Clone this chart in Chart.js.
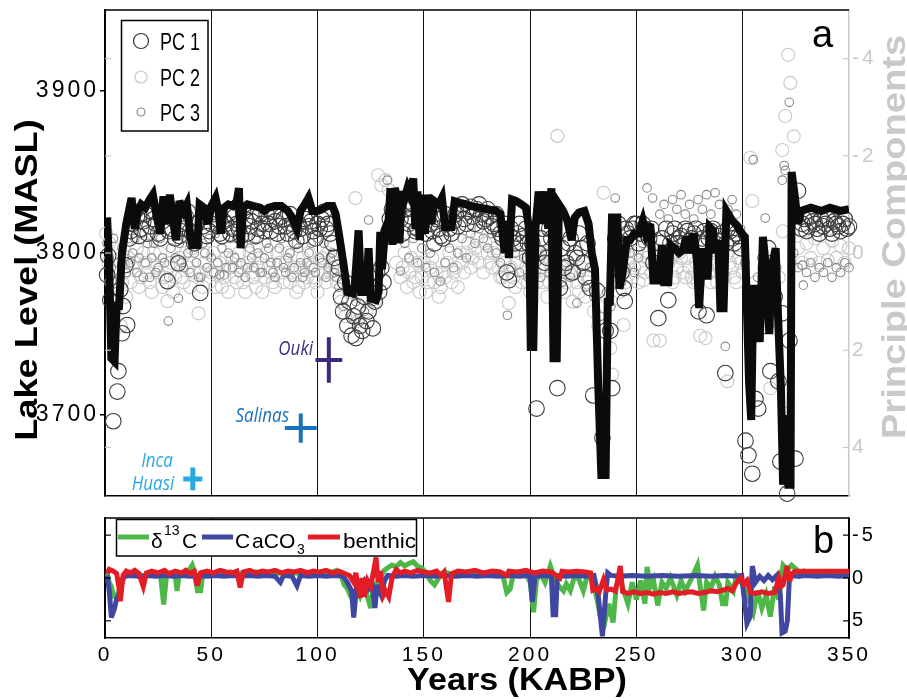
<!DOCTYPE html>
<html>
<head>
<meta charset="utf-8">
<title>Lake level reconstruction</title>
<script src="https://cdn.jsdelivr.net/npm/chart.js@4.4.1/dist/chart.umd.min.js"></script>
<style>
  body { margin: 0; background: #fff; }
  #wrap { position: relative; width: 907px; height: 700px; }
  #wrap canvas { position: absolute; left: 0; }
</style>
</head>
<body>
<div id="wrap">
  <canvas id="lakeChart" width="907" height="505" style="top:0"></canvas>
  <canvas id="proxyChart" width="907" height="195" style="top:505px"></canvas>
</div>
<script>
// ---- data: [age (ka BP), value] ----
const lakeLevel = [
  [1,3822],[2,3790],[3,3735],[4.5,3733],[5.5,3770],[6.5,3765],[8,3800],[10,3818],[12.5,3834],[14,3815],[15.5,3826],[17,3830],[19,3828],[21,3833],[22.5,3836],[24,3825],[26,3812],[27.5,3835],[29,3818],[30.5,3836],[32,3820],[33.5,3808],[35,3832],[37,3826],[38.5,3830],[40,3812],[41,3805],[43.5,3805],[44.5,3830],[46.5,3828],[48.5,3818],[50,3829],[52,3834],[53.5,3825],[54.5,3812],[56,3828],[58,3830],[60,3829],[62,3832],[63,3840],[63.8,3803],[65,3828],[67,3830],[70,3829],[73,3828],[75,3826],[77,3828],[80,3829],[83,3829],[86,3826],[88,3822],[90.3,3815],[92,3826],[94,3830],[95.7,3834],[97.5,3826],[100,3826],[102,3827],[104.5,3829],[107,3829],[108.5,3824],[110,3812],[112,3795],[114,3776],[116.5,3775],[117.5,3780],[119.3,3814],[120.5,3776],[123,3776],[124,3803],[125,3772],[127.5,3771],[128.7,3776],[129.5,3813],[130.3,3790],[131.8,3815],[133.4,3820],[134.3,3840],[135.2,3805],[136.3,3840],[137.5,3835],[138.5,3806],[139.7,3838],[141,3834],[142.3,3840],[143.5,3836],[145,3846],[146,3815],[147,3838],[148,3808],[149,3836],[150.5,3812],[152,3836],[153.5,3818],[155,3832],[157,3830],[158.5,3834],[160,3816],[163,3816],[164.5,3832],[167,3831],[170,3830],
  [172,3829],[176,3828],[180,3827],[184,3826],[186,3824],[188,3800],[189,3820],[190,3797],[191.5,3833],[193.5,3832],[196,3830],[198,3828],[199.5,3815],[200.3,3742],[201.5,3742],[202.5,3815],[204,3838],[205.5,3818],[207,3838],[208.5,3815],[210,3840],[211,3735],[212.5,3735],[213.5,3830],[215.5,3826],[217.5,3820],[219.5,3808],[221,3822],[223,3825],[225.5,3826],[227.5,3818],[229,3800],[230.5,3790],[232,3720],[233.5,3663],[235.5,3663],[236.5,3770],[237.5,3770],[238.5,3822],[241,3822],[242,3778],[243.5,3788],[245.5,3808],[247,3808],[249,3812],[251,3812],[253,3820],[254.5,3812],[256.5,3818],[258,3783],[260.5,3783],
  [262,3805],[263,3782],[265,3782],[266,3805],[268,3803],[270,3800],[272,3802],[273.5,3810],[275,3800],[277,3812],[278.5,3795],[279.5,3766],[281,3803],[282,3786],[283.5,3786],[284.5,3816],[286,3814],[287,3800],[288.5,3808],[289.5,3766],[291,3766],[292.3,3826],[295,3820],[297.3,3817],[299.5,3812],[301,3810],[303,3720],[304,3697],[305,3778],[307,3778],[308,3745],[309.5,3810],[311,3790],[312.5,3750],[313.5,3790],[315.5,3803],[316.5,3765],[318,3715],[319,3657],[320.5,3700],[321.5,3657],[322.5,3657],[323,3850],[324.5,3835],[326,3818],[327.5,3826],[332,3828],[337,3826],[341,3828],[346,3826],[350,3827]
];

const pc1 = [
  [1,0.45],[1.5,0.06],[2.5,0.97],[3.9,3.46],[5.8,2.85],[6.3,2.43],[7.2,0.75],[8,1.65],[8.5,1.09],[9.6,0.25],[10.4,1.48],[11.5,-0.3],
  [13,-0.6],[15,-0.75],[17,-0.5],[19,-0.8],[21,-0.55],[23,-0.7],[25,-0.4],[27,-0.65],[29.4,0.58],[31,-0.5],[33,-0.3],[34.5,0.21],[36,-0.6],[38,-0.75],[40,-0.45],[42,-0.2],[44.8,0.82],[46,-0.55],[48,-0.35],[50,-0.6],[52,-0.7],[54,-0.4],[56,-0.65],[58,-0.8],[60,-0.5],[62,-0.6],[64,-0.35],[66,-0.7],[68,-0.55],[70,-0.75],[72,-0.5],[74,-0.6],[76,-0.8],[78,-0.45],[80,-0.65],[82,-0.55],[84,-0.7],[86,-0.4],[88,-0.6],[90,-0.25],[92,-0.5],[94,-0.7],[96,-0.55],[98,-0.45],[100,-0.6],[102,-0.7],[104,-0.5],[106,-0.4],[108,0.1],
  [12,-0.45],[14,-0.85],[16,-0.35],[18,-0.65],[20,-0.4],[22,-0.85],[24,-0.6],[26,-0.3],[28,-0.75],[30,-0.45],[32,-0.7],[35,-0.35],[37,-0.5],[39,-0.85],[41,-0.4],[43,-0.6],[47,-0.75],[49,-0.45],[51,-0.8],[53,-0.55],[55,-0.35],[57,-0.6],[59,-0.4],[61,-0.75],[63,-0.5],[65,-0.85],[67,-0.4],[69,-0.65],[71,-0.35],[73,-0.8],[75,-0.45],[77,-0.6],[79,-0.85],[81,-0.4],[83,-0.75],[85,-0.55],[87,-0.8],[89,-0.45],[91,-0.6],[93,-0.35],[95,-0.8],[97,-0.65],[99,-0.3],[101,-0.5],[103,-0.85],[105,-0.6],[107,-0.2],
  [110,0.3],[111,0.9],[112,1.2],[113,0.6],[114,1.5],[115,1.0],[116,1.7],[117,1.3],[118,1.75],[119,1.1],[120,1.5],[121,1.6],[122,0.9],[123,1.4],[124,1.2],[125,0.7],[126,1.55],[127,1.0],[128,0.4],[129,0.8],[130,0.3],[131,0.6],
  [133,-0.4],[135,-0.9],[137,-1.1],[139,-0.7],[141,-0.9],[143,-0.6],[145,-1.0],[147,-0.5],[149,-0.7],[151,-0.4],[153,-0.6],[155,-0.2],[157,-0.5],[159,-0.3],[161,-0.6],[163,-0.4],[165,-0.8],[167,-0.9],[169,-0.7],[171,-0.85],[173,-0.75],[175,-0.9],[177,-0.8],[179,-0.7],[181,-0.75],[183,-0.6],[185,-0.5],[187,-0.3],[189,0.4],[190,0.56],[192,-0.3],[194,-0.4],[196,-0.2],[198,-0.5],
  [134,-0.7],[136,-0.5],[138,-0.85],[140,-0.4],[142,-1.0],[144,-0.75],[146,-0.45],[148,-0.9],[150,-0.55],[152,-0.8],[154,-0.45],[156,-0.7],[158,-0.35],[160,-0.8],[162,-0.5],[164,-0.65],[166,-0.55],[168,-1.0],[170,-0.6],[172,-0.95],[174,-0.6],[176,-1.0],[178,-0.65],[180,-0.9],[182,-0.55],[184,-0.8],[186,-0.4],[188,-0.6],[191,-0.5],[193,-0.2],[195,-0.6],[197,-0.35],[199,-0.2],
  [200,0.1],[203,3.2],[205,-0.3],[207,0.2],[209,-0.5],[212.8,2.78],[214,0.72],[216,0.3],[218,-0.2],[220,0.4],[222,0.1],[224,-0.1],[226,0.5],[228.3,0.72],[229.7,2.93],[231.6,0.78],[234,3.8],[235.5,1.6],[237.7,1.6],[238.6,2.78],[240,-0.3],[241.5,-0.6],[243,0.4],[244,0.72],[244.5,0.99],[246,-0.4],[248,-0.5],[250,-0.6],[252,-0.4],[254,-0.5],[256,-0.3],[258,0.2],
  [201,-0.2],[204,0.0],[206,-0.5],[208,0.1],[210,-0.3],[215,-0.1],[217,0.2],[219,-0.3],[221,0.0],[223,-0.4],[225,0.2],[227,-0.2],[245,-0.5],[247,-0.3],[249,-0.6],[251,-0.2],[253,-0.6],[255,-0.4],[257,-0.5],
  [260.3,1.34],[262,-0.3],[263.5,0.1],[265,0.97],[267,-0.4],[269,-0.2],[271,-0.35],[273,-0.5],[275,-0.25],[277,-0.4],[279.2,1.2],[281,-0.3],[283,1.28],[285,-0.45],[287,-0.2],[289,-0.35],[291.8,2.47],[293,-0.5],[295,-0.3],[297,-0.4],[299,-0.1],
  [261,-0.2],[264,-0.5],[266,-0.2],[268,-0.5],[270,-0.3],[272,-0.15],[274,-0.45],[276,-0.3],[278,-0.5],[280,-0.2],[282,-0.45],[284,-0.3],[286,-0.5],[288,-0.25],[290,-0.4],[292,-0.2],[294,-0.45],[296,-0.2],[298,-0.35],
  [301.3,3.86],[302.7,4.16],[304.5,4.54],[306,3.0],[307.3,3.2],[310.6,1.5],[312,-0.1],[313,2.43],[315,0.9],[316.8,2.64],[317.7,4.29],[318.6,1.24],[320.9,4.95],[322,1.8],[324.8,4.23],[326,-1.28],
  [327.5,-0.5],[329,-0.7],[331,-0.55],[333,-0.65],[335,-0.5],[337,-0.7],[339,-0.6],[341,-0.5],[343,-0.65],[345,-0.55],[347,-0.6],[349,-0.5],
  [328,-0.6],[330,-0.45],[332,-0.75],[334,-0.6],[336,-0.4],[338,-0.55],[340,-0.7],[342,-0.4],[344,-0.6],[346,-0.45],[348,-0.7],[350,-0.55]
];

const pc2 = [
  [0.5,-0.4],[2,-0.2],[3,0.6],[4.5,1.2],[6,0.9],[7.5,1.5],[9,0.4],[11,0.1],[13,0.3],[15,-0.1],[17,0.5],[19,0.2],[21,0.6],[23,0.0],[25,0.4],[27,0.7],[29.4,0.99],[31,0.2],[33,0.5],[35,0.1],[37,0.6],[39,0.3],[41,-0.1],[44,1.24],[45,0.4],[47,0.2],[49,0.6],[51,0.0],[53,0.4],[55,0.7],[57,0.1],[59,0.3],[61,0.5],[63,0.0],[65,0.6],[67,0.2],[69,0.4],[71,0.7],[73,0.1],[75,0.5],[77,0.3],[79,0.6],[81,0.0],[83,0.4],[85,0.2],[87,0.6],[89,0.3],[91,0.7],[93,0.1],[95,0.5],[97,0.3],[99,0.6],[101,0.2],[103,0.4],[105,0.0],[107,0.3],[109,0.6],
  [1.5,0.2],[4,-0.1],[8,0.6],[10,0.9],[12,0.6],[14,0.2],[16,0.7],[18,0.0],[20,0.4],[22,0.8],[24,0.3],[26,0.0],[28,0.5],[30,0.3],[32,0.8],[34,0.2],[36,0.5],[38,0.0],[40,0.7],[42,0.4],[46,0.7],[48,0.0],[50,0.4],[52,0.7],[54,0.2],[56,0.5],[58,0.8],[60,0.1],[62,0.6],[64,0.3],[66,0.8],[68,0.0],[70,0.5],[72,0.3],[74,0.8],[76,0.0],[78,0.4],[80,0.7],[82,0.2],[84,0.6],[86,0.0],[88,0.4],[90,0.8],[92,0.3],[94,0.6],[96,0.0],[98,0.5],[100,0.8],[102,0.1],[104,0.6],[106,0.4],[108,0.2],
  [111,1.0],[113,1.3],[115,0.8],[117.8,-1.13],[119,1.4],[121,0.9],[123,1.2],[125,0.5],[127,1.0],[128.5,-1.6],[130,-1.4],[132,-1.5],[133.5,-1.3],[135,-0.6],[137,0.2],[139,0.5],[141,0.0],[143,0.4],[145,0.6],[147,0.2],[149,0.5],[151,0.8],[153,0.3],[155,0.6],[157,0.9],[159,0.4],[161,0.2],[163,0.6],[165,0.3],[167,0.0],[169,0.4],[171,-0.2],[173,0.1],[175,-0.3],[177,0.0],[179,-0.2],[181,0.2],[183,0.0],[185,0.3],[187,0.5],[190,1.03],[192,0.5],[194,0.2],[196,0.6],[198,0.3],
  [140,0.3],[142,0.7],[144,0.1],[146,0.5],[148,0.8],[150,0.2],[152,0.6],[154,0.1],[156,0.4],[158,0.7],[160,0.5],[162,0.0],[164,0.4],[166,0.7],[168,0.2],[170,0.0],[172,0.3],[174,-0.1],[176,0.2],[178,0.4],[180,0.0],[182,0.3],[184,-0.1],[186,0.5],[188,0.2],[191,0.3],[193,0.7],[195,0.0],[197,0.4],[199,0.6],
  [200,0.8],[202,0.4],[204,0.1],[206,0.6],[208,0.9],[210,0.3],[212.8,-2.41],[214,0.5],[216,0.8],[218,0.4],[220,1.0],[222,0.6],[224,0.3],[226,0.9],[228,0.5],[230,1.2],[232,1.5],[234.5,-1.24],[236,0.9],[237.7,1.96],[238.6,2.5],[240,0.3],[242,0.8],[244,1.48],[246,0.2],[248,0.5],[250,0.0],[252,0.3],[253.3,0.56],[255,0.1],[257,0.4],[258,1.8],
  [201,0.2],[203,0.6],[205,0.3],[207,0.0],[209,0.6],[211,0.2],[215,0.3],[217,0.6],[219,0.1],[221,0.4],[223,0.8],[225,0.2],[227,0.6],[245,0.6],[247,0.1],[249,0.3],[251,0.6],[254,0.4],[256,0.0],
  [261,1.8],[263,0.5],[265,0.2],[267,0.6],[269,0.3],[271,0.1],[273,0.5],[275,0.3],[277,0.6],[280,1.7],[282.5,1.75],[284,0.4],[286,0.2],[288,0.6],[290,0.3],[292.8,2.64],[294,0.2],[296,0.5],[298,0.1],[300,0.4],
  [260,0.3],[262,0.0],[264,0.4],[266,0.1],[268,0.5],[270,0.0],[272,0.4],[274,0.1],[276,0.5],[278,0.2],[279,0.6],[281,0.0],[283,0.3],[285,0.6],[287,0.0],[289,0.3],[291,0.5],[293,0.0],[295,0.3],[297,0.6],[299,0.2],
  [303.6,-1.96],[304.5,-1.07],[306,0.6],[308,1.0],[310,0.3],[313,2.78],[315,1.2],[317,0.5],[318.6,-2.12],[318.9,-0.45],[320,-2.82],[321,3.3],[321.4,-4.08],[322.4,-3.5],[324,-2.4],
  [326,-0.1],[328,0.2],[330,-0.2],[332,0.1],[334,-0.3],[336,0.2],[338,-0.1],[340,0.15],[342,-0.25],[344,0.1],[346,-0.15],[348,0.2],[350,-0.1]
];

const pc3 = [
  [1,-0.2],[3,0.3],[5,0.8],[7,0.5],[9,0.1],[11,-0.3],[13,0.0],[15,0.4],[17,-0.4],[19,0.2],[21,0.5],[23,-0.2],[25,0.3],[27,0.1],[29.8,1.4],[31,-0.1],[34.5,0.93],[36,0.2],[38,-0.3],[40,0.4],[42,0.0],[44,0.5],[46,-0.2],[48,0.3],[50,0.1],[52,-0.4],[54,0.45],[56,0.45],[58,0.0],[60,0.3],[62,-0.3],[64,0.2],[66,0.5],[68,-0.1],[70,0.3],[72,0.0],[74,0.4],[76,-0.2],[78,0.2],[80,0.5],[82,-0.1],[84,0.3],[86,0.1],[88,0.5],[90,-0.2],[92,0.2],[94,0.4],[96,0.0],[98,0.3],[100,-0.3],[102,0.2],[104,0.5],[106,0.1],[108,0.4],
  [2,0.1],[4,-0.3],[6,0.2],[8,-0.1],[10,0.4],[12,0.2],[14,-0.3],[16,0.1],[18,0.5],[20,-0.2],[22,0.1],[24,0.4],[26,-0.3],[28,0.2],[30,0.5],[33,0.1],[35,-0.2],[37,0.3],[39,0.0],[41,-0.4],[43,0.2],[45,0.5],[47,0.0],[49,-0.3],[51,0.4],[53,0.2],[55,-0.1],[57,0.3],[59,-0.3],[61,0.1],[63,0.4],[65,-0.2],[67,0.3],[69,0.1],[71,-0.3],[73,0.4],[75,0.1],[77,-0.1],[79,0.4],[81,0.2],[83,-0.3],[85,0.4],[87,0.0],[89,0.3],[91,-0.1],[93,0.5],[95,0.2],[97,-0.2],[99,0.4],[101,0.1],[103,-0.2],[105,0.3],[107,0.0],[109,0.5],
  [110,0.7],[112,1.1],[114,0.8],[116,1.3],[118,1.0],[120,1.4],[122,1.2],[124,-0.68],[126,1.0],[128,0.6],[130,0.2],[132.8,-1.5],[134,-0.8],[136,-0.4],[139,0.37],[141,-0.2],[143,0.1],[145,-0.3],[147,0.2],[149,-0.1],[151,0.3],[153,0.0],[155,0.4],[157.7,0.58],[160,0.2],[162,-0.1],[164,0.3],[166,0.0],[168,-0.3],[170,0.1],[172,-0.4],[174,-0.2],[176,-0.5],[178,-0.3],[180,-0.1],[182,-0.4],[184,0.0],[186,0.2],[189.3,1.28],[191,0.3],[193,0.0],[195,0.4],[197,0.1],[199,0.5],
  [201,0.8],[203,0.2],[205,0.5],[207,0.0],[209,0.4],[211,0.7],[213,0.3],[215,0.6],[217,0.2],[219,0.5],[222,1.03],[224,0.4],[226,0.7],[228,0.3],[230,0.9],[233,1.3],[236,0.8],[238,1.1],[240,-1.13],[241,0.2],[243,0.6],[245,0.3],[247,0.0],[249,0.4],[251,0.1],[253,-0.2],[255,-1.34],[257.6,-1.13],[259,0.2],
  [261,-0.8],[263,-1.0],[265,-0.7],[267,-1.1],[269,-0.9],[271,-1.2],[273,-0.8],[275,-1.0],[277,-0.7],[279,-1.1],[281,-0.9],[283,-1.2],[285,-0.8],[287,-1.24],[289,-1.0],[291.8,1.92],[293,-0.9],[295,-1.1],[297,-0.8],[299,-0.5],
  [301,0.2],[305,-1.92],[307,0.5],[309,0.1],[310.6,-0.72],[312,0.4],[314,0.8],[316,0.3],[318.6,-1.5],[319.5,-1.8],[320,-1.7],[321.9,-3.1],[324,0.0],[326,0.3],[328,0.25],[328.5,0.66],[330,0.4],[332,0.2],[334,0.5],[336,0.3],[338,0.4],[340,0.2],[342,0.5],[344,0.3],[346,0.4],[348,0.2],[350,0.3]
];

// independent lake level estimates
const siteNames = ['Inca Huasi', 'Salinas', 'Ouki'];
const siteAge = [41.3, 92.1, 105.3];
const siteAgeErr = [4.5, 7.5, 6.3];
const siteLevel = [3660.6, 3692, 3734];
const siteLevelErr = [7, 9, 14];

// panel b proxies
const d13C = [
  [1,-0.5],[2,0.5],[3,1.0],[4,2.1],[5.5,2.0],[7,1.5],[8,0.5],[9.5,-0.3],[11,-0.6],[13,-0.4],[15,-0.7],[17,-0.3],[18,0.6],[19.5,-0.5],[22,-0.7],[24,-0.4],[26,-0.6],[27.6,3.1],[29,-0.5],[31,-0.6],[33,-0.4],[33.9,1.5],[35,-0.6],[37,-0.4],[39,-0.7],[41,-1.5],[42,-0.7],[43.5,1.5],[45,1.5],[46,-0.5],[48,-0.6],[50,-0.4],[53,-0.6],[56,-0.5],[59,-0.7],[62,-0.4],[65,-0.6],[68,-0.5],[71,-0.7],[74,-0.4],[77,-0.6],[80,-0.5],[83,-0.6],[86,-0.4],[89,-0.6],[92,-0.5],[95,-0.7],[98,-0.4],[101,-0.6],[104,-0.5],[107,-0.7],[109,-0.9],[111,-0.5],[112.5,0.8],[114,1.2],[115.5,2.1],[117,2.0],[118.5,1.2],[120,2.1],[121.5,1.0],[123,1.8],[125,3.5],[126.5,0.5],[128,1.5],[129.5,0.0],[131,-0.8],[133,-1.2],[135,-1.5],[137,-1.3],[139,-1.8],[141,-1.4],[143,-1.7],[145,-1.9],[147,-1.4],[149,-1.2],[151,-0.6],[153,0.3],[155,0.8],[156.5,0.2],[158,-0.5],[160,-0.7],[163,-0.4],[166,-0.6],[169,-0.5],[172,-0.7],[175,-0.4],[178,-0.6],[181,-0.5],[184,-0.8],[187,-0.5],[189,1.7],[190.6,1.3],[192,-0.4],[195,-0.6],[198,-0.5],
  [200,0.5],[201.6,4.0],[203,0.2],[205,-0.5],[207,0.5],[209.5,-1.4],[211,-0.3],[213,0.8],[215.7,1.5],[217,0.7],[218.9,1.5],[221,-0.3],[223,0.2],[225,1.5],[227,-0.4],[229,0.0],[231.5,2.5],[233,4.5],[235,5.3],[237,3.0],[239,5.2],[240.5,1.0],[242,-0.2],[244,1.5],[246,3.0],[248,0.5],[250,2.5],[252,0.3],[254,3.0],[255,-1.3],[256.5,1.0],[258,0.2],[260,3.2],[262,0.5],[264,1.2],[266,0.0],[269,2.0],[271,0.3],[273,1.5],[276,0.0],[278.7,-1.5],[280,1.0],[281.6,3.8],[283,0.5],[285,1.2],[287,-0.2],[289,0.8],[290.5,3.0],[292,3.0],[293,0.5],[295.6,1.5],[297,-0.3],[299,0.3],[301,1.5],[303.6,3.0],[305,4.0],[307,1.5],[309,3.5],[311,2.0],[313,4.5],[315,1.0],[317,2.5],[319,-1.5],[321,-1.0],[323,-1.5],[325.7,-0.9],[327,-0.3],[329,-0.8],[331.8,-0.4],[335,-0.3],[340,-0.3],[345,-0.3],[350,-0.3]
];

const caco3 = [
  [1,-0.3],[2,1.5],[3,4.6],[4.5,3.5],[5.5,2.4],[6.5,2.0],[7.5,0.5],[9,-0.2],[12,-0.3],[16,-0.2],[20,-0.3],[24,-0.2],[28,-0.3],[32,-0.2],[36,-0.3],[40,-0.2],[44,-0.3],[48,-0.2],[52,-0.3],[56,-0.2],[60,-0.3],[64,-0.2],[68,-0.3],[72,-0.2],[76,-0.3],[80,-0.2],[82.5,0.5],[84,-0.3],[88,-0.2],[90.3,0.9],[92,-0.3],[96,-0.2],[100,-0.3],[104,-0.2],[108,-0.3],[112,-0.2],[114,0.5],[116,1.5],[117,4.6],[118.5,0.5],[120,1.0],[122,0.3],[124,1.2],[125.5,0.5],[127,3.5],[128,0.8],[130,2.0],[131.5,0.3],[133,-0.3],[137,-0.2],[141,-0.3],[145,-0.2],[150,-0.3],[155,-0.2],[160,-0.3],[165,-0.2],[170,-0.3],[175,-0.2],[180,-0.3],[185,-0.2],[190,-0.3],[195,-0.2],
  [200,-0.3],[201,2.8],[202.3,-0.2],[206,-0.3],[210,-0.2],[210.8,4.3],[212,4.3],[212.8,-0.3],[217,-0.2],[222,-0.3],[226,-0.2],[230,-0.3],[232,2.0],[234,6.8],[235.5,2.0],[236.5,-0.6],[238,-0.3],[242,-0.2],[248,-0.3],[255,-0.2],[262,-0.3],[270,-0.2],[278,-0.3],[285,-0.2],[292,-0.3],[297,-0.2],[299.5,-0.3],[301,3.0],[302,5.3],[303.5,4.5],[304.5,-1.4],[306,0.5],[308,-0.2],[310,0.3],[312,-0.3],[314,0.2],[316,-0.3],[317.7,2.0],[318.5,6.4],[320,6.2],[321,5.0],[322,-0.3],[326,-0.2],[330,-0.3],[335,-0.2],[340,-0.3],[345,-0.2],[350,-0.3]
];

const benthic = [
  [1,-0.5],[2,-1.0],[4,-0.8],[5.5,-0.5],[6.5,1.0],[7.2,2.7],[8.5,-0.3],[10,-0.8],[12,-0.6],[14,-0.9],[16,-0.5],[18,1.0],[19.5,-0.6],[22,-0.8],[25,-0.6],[28,-0.9],[30,-0.5],[33,-0.8],[36,-0.6],[38,-0.9],[40,-0.5],[42,-0.8],[43.4,0.9],[45,-0.6],[48,-0.8],[51,-0.6],[54,-0.9],[57,-0.7],[60,-0.6],[62,-0.8],[63.6,1.1],[65,-0.7],[68,-0.9],[71,-0.6],[74,-0.8],[77,-0.7],[80,-0.9],[83,-0.6],[86,-0.8],[89,-0.7],[92,-0.9],[95,-0.6],[98,-0.8],[101,-0.7],[104,-0.9],[107,-0.6],[110,-0.8],[113,-0.5],[115,-0.3],[117,0.5],[118,-0.6],[120,2.3],[121,0.0],[122,2.2],[123.5,0.3],[125,1.0],[126.5,-1.0],[127.5,-2.4],[128.5,0.5],[129.5,-0.8],[131,2.0],[132,1.5],[133.5,2.2],[135,0.0],[137,-1.0],[139,-0.6],[141,-0.8],[144,-0.6],[147,-0.9],[150,-0.7],[153,-0.6],[156,-0.8],[158,-0.3],[159.5,-0.7],[161.6,2.8],[163,-0.5],[166,-0.8],[170,-0.7],[174,-0.9],[178,-0.6],[182,-0.8],[186,-0.7],[189,-0.3],[190,-0.8],[194,-0.7],[198,-0.9],
  [202,-0.6],[206,-0.8],[210,-0.7],[214,0.0],[215,-0.8],[218,-0.7],[222,-0.8],[226,-0.7],[228.4,-0.6],[229.5,1.4],[231,1.2],[232.5,1.6],[234.5,0.2],[236,1.4],[238,1.3],[240,1.5],[241,0.5],[242.4,-1.4],[243.5,1.6],[246,1.8],[249,1.6],[252,1.8],[255,1.7],[258,1.9],[261,1.7],[264,1.8],[267,1.6],[270,1.8],[273,1.7],[276,1.6],[279,1.8],[282,1.7],[285,1.5],[288,1.6],[291,1.4],[293,1.2],[295,1.5],[297,0.6],[299,0.0],[300.5,0.7],[302,0.3],[303.6,1.7],[306,1.8],[309,1.6],[312,1.8],[315,1.7],[317,0.0],[318,1.0],[319,0.8],[320.9,-1.4],[322,0.4],[323.3,-0.5],[324.5,-0.8],[328,-0.8],[332,-0.8],[336,-0.8],[340,-0.8],[345,-0.8],[350,-0.8]
];

const xTicks = [0, 50, 100, 150, 200, 250, 300, 350];
const levelTicks = [3700, 3800, 3900];
const pcTicks = [-4, -2, 0, 2, 4];
const proxyTicks = [-5, 0, 5];

// ---- styling ----
const FONT = '"Liberation Sans", Arial, Helvetica, sans-serif';
const ITALIC = '"Open Sans", "Noto Sans", sans-serif';
const PC_GREY = '#c9c9c9';
const siteColors = ['#29a9e1', '#1b72ba', '#3d2a80'];

const toPoints = rows => rows.map(([x, y]) => ({ x, y }));
const fixTicks = list => scale => { scale.ticks = list.map(v => ({ value: v })); };
const plain = v => String(v);

function crossPoints(i) {
  const a = siteAge[i], l = siteLevel[i], da = siteAgeErr[i], dl = siteLevelErr[i];
  return [{x: a - da, y: l}, {x: a + da, y: l}, {x: a, y: null}, {x: a, y: l - dl}, {x: a, y: l + dl}];
}

function text(ctx, str, x, y, o) {
  ctx.save();
  ctx.translate(x, y);
  if (o.rot) ctx.rotate(o.rot);
  ctx.scale(o.sx || 1, 1);
  ctx.font = o.font;
  ctx.fillStyle = o.color || '#000';
  ctx.textAlign = o.align || 'left';
  ctx.textBaseline = o.base || 'alphabetic';
  ctx.letterSpacing = o.spacing || '0px';
  ctx.fillText(str, 0, 0);
  ctx.restore();
}

function seg(ctx, x1, y1, x2, y2) {
  ctx.beginPath(); ctx.moveTo(x1, y1); ctx.lineTo(x2, y2); ctx.stroke();
}

// wide digit spacing on the axes, and not-too-long spikes on the thick lines
const canvasState = {
  id: 'canvasState',
  beforeDraw(chart) {
    chart.ctx.letterSpacing = '3px';
    chart.ctx.miterLimit = 4;
  }
};

// ---- panel a ----
const lakeExtras = {
  id: 'lakeExtras',
  afterDraw(chart) {
    const { ctx, chartArea: a, scales } = chart;
    ctx.save();
    ctx.strokeStyle = '#000';
    ctx.lineWidth = 1.5;
    seg(ctx, a.left, a.top, a.right, a.top);

    ctx.strokeStyle = PC_GREY;
    ctx.lineWidth = 1.2;
    pcTicks.forEach(v => {
      const y = scales.pc.getPixelForValue(v);
      seg(ctx, a.left, y, a.left + 6, y);
      seg(ctx, a.right - 6, y, a.right, y);
    });

    // legend
    ctx.fillStyle = '#fff';
    ctx.fillRect(121, 20, 87, 111);
    ctx.strokeStyle = '#000';
    ctx.lineWidth = 1.5;
    ctx.strokeRect(121.5, 20.5, 86.5, 110.5);
    const marks = [[41, 7.5, '#333'], [77, 6, PC_GREY], [112, 4, '#8a8a8a']];
    marks.forEach(([y, r, c], i) => {
      ctx.strokeStyle = c; ctx.lineWidth = 1.2;
      ctx.beginPath(); ctx.arc(141, y, r, 0, Math.PI * 2); ctx.stroke();
      text(ctx, 'PC ' + (i + 1), 160, y + 9, { font: '24px ' + FONT, sx: 0.75 });
    });

    text(ctx, 'a', 812, 47, { font: '38px ' + FONT });

    // site names
    const it = 'italic 20px ' + ITALIC;
    text(ctx, 'Ouki', 313, 355, { font: it, color: siteColors[2], align: 'right', sx: 0.85 });
    text(ctx, 'Salinas', 289, 422, { font: it, color: siteColors[1], align: 'right', sx: 0.85 });
    text(ctx, 'Inca', 157, 467, { font: it, color: siteColors[0], align: 'center', sx: 0.85 });
    text(ctx, 'Huasi', 153, 490, { font: it, color: siteColors[0], align: 'center', sx: 0.85 });

    // axis titles
    text(ctx, 'Lake Level (MASL)', 37, 280, { font: 'bold 32px ' + FONT, align: 'center', rot: -Math.PI / 2, sx: 1.13 });
    text(ctx, 'Principle Components', 905, 237, { font: 'bold 34px ' + FONT, color: PC_GREY, align: 'center', rot: -Math.PI / 2, sx: 1.12 });
    ctx.restore();
  }
};

const scatterSet = (rows, r, color, order) => ({
  data: toPoints(rows), yAxisID: 'pc', showLine: false, order, clip: false,
  pointRadius: r, pointBorderWidth: 1.1, pointBorderColor: color,
  pointBackgroundColor: 'rgba(0,0,0,0)'
});

new Chart(document.getElementById('lakeChart'), {
  type: 'scatter',
  data: {
    datasets: [
      scatterSet(pc2, 6.5, PC_GREY, 5),
      scatterSet(pc3, 4.3, '#8a8a8a', 4),
      scatterSet(pc1, 7.8, '#3a3a3a', 3),
      {
        data: toPoints(lakeLevel), yAxisID: 'lvl', showLine: true, order: 2,
        borderColor: '#0b0b0b', borderWidth: 8, pointRadius: 0,
        borderJoinStyle: 'miter', borderCapStyle: 'butt', tension: 0
      },
      ...siteNames.map((n, i) => ({
        label: n, data: crossPoints(i), yAxisID: 'lvl', showLine: true, order: 1,
        borderColor: siteColors[i], borderWidth: i === 0 ? 5 : 4, pointRadius: 0,
        borderCapStyle: 'butt', spanGaps: false
      }))
    ]
  },
  options: {
    responsive: false, animation: false, events: [],
    layout: { padding: { top: 10, left: 0, right: 0, bottom: 0 } },
    plugins: { legend: { display: false }, tooltip: { enabled: false } },
    scales: {
      x: {
        type: 'linear', min: 0, max: 350, afterBuildTicks: fixTicks(xTicks),
        ticks: { display: false },
        grid: { color: c => (c.tick && c.tick.value === 350) ? 'rgba(0,0,0,0)' : '#111', lineWidth: 1, drawTicks: false },
        border: { color: '#000', width: 1.5 },
        afterFit: s => { s.height = 8; s.paddingLeft = 0; s.paddingRight = 0; }
      },
      lvl: {
        type: 'linear', position: 'left', min: 3650, max: 3950, afterBuildTicks: fixTicks(levelTicks),
        ticks: { color: '#000', font: { family: FONT, size: 23 }, padding: 1, callback: plain },
        grid: { drawOnChartArea: false, color: '#000', tickLength: 5, lineWidth: 1.5 },
        border: { color: '#000', width: 1.5 },
        afterFit: s => { s.width = 105; s.paddingTop = 0; s.paddingBottom = 0; }
      },
      pc: {
        type: 'linear', position: 'right', reverse: true, min: -5, max: 5, afterBuildTicks: fixTicks(pcTicks),
        ticks: { color: PC_GREY, font: { family: FONT, size: 21 }, padding: 3, callback: plain },
        grid: { drawOnChartArea: false, drawTicks: false },
        border: { color: PC_GREY, width: 1.5 },
        afterFit: s => { s.width = 58; s.paddingTop = 0; s.paddingBottom = 0; }
      }
    }
  },
  plugins: [canvasState, lakeExtras]
});

// ---- panel b ----
const proxyColors = ['#4db748', '#3f47a0', '#e31d25'];

const proxyExtras = {
  id: 'proxyExtras',
  afterDraw(chart) {
    const { ctx, chartArea: a, scales } = chart;
    ctx.save();
    ctx.strokeStyle = '#000';
    ctx.lineWidth = 1.5;
    seg(ctx, a.left, a.top, a.right, a.top);
    ctx.lineWidth = 1.2;
    proxyTicks.forEach(v => {
      const y = scales.yr.getPixelForValue(v);
      seg(ctx, a.left, y, a.left + 6, y);
      seg(ctx, a.right - 6, y, a.right, y);
    });

    // legend (canvas y = page y - 505)
    ctx.fillStyle = '#fff';
    ctx.fillRect(116, 14, 301, 37);
    ctx.strokeStyle = '#000';
    ctx.lineWidth = 1.5;
    ctx.strokeRect(116.5, 14.5, 300, 36.5);
    ctx.lineWidth = 5;
    [[118, 149], [202, 233], [308, 340]].forEach(([x1, x2], i) => {
      ctx.strokeStyle = proxyColors[i];
      seg(ctx, x1, 32, x2, 32);
    });
    const f = '21px ' + FONT, fs = '14px ' + FONT;
    text(ctx, 'δ', 151, 43, { font: f });
    text(ctx, '13', 164, 30, { font: fs });
    text(ctx, 'C', 182, 43, { font: f });
    text(ctx, 'C', 235, 43, { font: f });
    text(ctx, 'aC', 252, 43, { font: f });
    text(ctx, 'O', 279, 43, { font: f });
    text(ctx, '3', 297, 49, { font: fs });
    text(ctx, 'benthic', 343, 43, { font: f, sx: 1.08 });

    text(ctx, 'b', 813, 48, { font: '38px ' + FONT });
    text(ctx, 'Years (KABP)', 517, 185, { font: 'bold 31px ' + FONT, align: 'center', sx: 1.1 });
    ctx.restore();
  }
};

const proxyNames = ['δ13C', 'CaCO3', 'benthic'];
const proxySeries = [d13C, caco3, benthic];

new Chart(document.getElementById('proxyChart'), {
  type: 'scatter',
  data: {
    datasets: proxySeries.map((rows, i) => ({
      label: proxyNames[i], data: toPoints(rows), yAxisID: 'yr', showLine: true,
      order: 3 - i, borderColor: proxyColors[i], borderWidth: 5, pointRadius: 0,
      borderJoinStyle: 'miter', tension: 0
    }))
  },
  options: {
    responsive: false, animation: false, events: [],
    layout: { padding: { top: 13, left: 0, right: 0, bottom: 0 } },
    plugins: { legend: { display: false }, tooltip: { enabled: false } },
    scales: {
      x: {
        type: 'linear', min: 0, max: 350, afterBuildTicks: fixTicks(xTicks),
        ticks: { color: '#000', font: { family: FONT, size: 21 }, padding: 5, maxRotation: 0, callback: plain },
        grid: { color: '#111', lineWidth: 1, drawTicks: false },
        border: { color: '#000', width: 1.5 },
        afterFit: s => { s.height = 62; s.paddingLeft = 0; s.paddingRight = 0; }
      },
      yl: {
        type: 'linear', position: 'left', reverse: true, min: -7, max: 7,
        ticks: { display: false },
        grid: { drawOnChartArea: false, drawTicks: false },
        border: { color: '#000', width: 1.5 },
        afterFit: s => { s.width = 105; s.paddingTop = 0; s.paddingBottom = 0; }
      },
      yr: {
        type: 'linear', position: 'right', reverse: true, min: -7, max: 7, afterBuildTicks: fixTicks(proxyTicks),
        ticks: { color: '#000', font: { family: FONT, size: 20 }, padding: 3, callback: plain },
        grid: { drawOnChartArea: false, drawTicks: false },
        border: { color: '#000', width: 1.5 },
        afterFit: s => { s.width = 58; s.paddingTop = 0; s.paddingBottom = 0; }
      }
    }
  },
  plugins: [canvasState, proxyExtras]
});
</script>
</body>
</html>
